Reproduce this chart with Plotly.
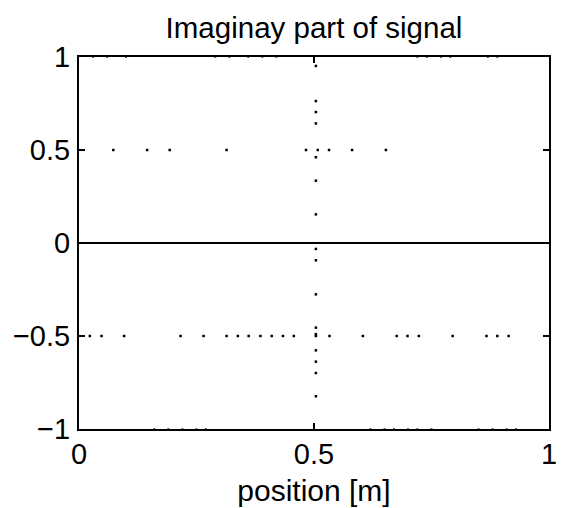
import plotly.graph_objects as go

# ---- data ----
line_x = [0.0, 1.0]
line_y = [0.0, 0.0]

row_pos_x = [0.073, 0.145, 0.193, 0.314, 0.483, 0.508, 0.532, 0.581, 0.653]
row_pos_y = [0.5] * len(row_pos_x)

row_neg_x = [0.023, 0.048, 0.096, 0.216, 0.265, 0.314, 0.338, 0.361, 0.386,
             0.410, 0.434, 0.457, 0.504, 0.533, 0.604, 0.676, 0.699, 0.723,
             0.795, 0.867, 0.890, 0.914]
row_neg_y = [-0.5] * len(row_neg_x)

col_y = [0.952, 0.763, 0.704, 0.643, 0.461, 0.335, 0.154, -0.032, -0.093,
         -0.276, -0.455, -0.49, -0.577, -0.638, -0.699, -0.824]
col_x = [0.504] * len(col_y)

top_x = [0.03, 0.06, 0.10, 0.29, 0.32, 0.36, 0.39, 0.42, 0.72, 0.74, 0.77, 0.79, 0.87, 0.89]
top_y = [1.0] * len(top_x)
bot_x = [0.16, 0.19, 0.22, 0.25, 0.27, 0.62, 0.65, 0.67, 0.70, 0.72, 0.75, 0.85, 0.88, 0.91, 0.93]
bot_y = [-1.0] * len(bot_x)

x_ticks = [0, 0.5, 1]
x_tick_labels = ["0", "0.5", "1"]
y_ticks = [-1, -0.5, 0, 0.5, 1]
y_tick_labels = ["\u22121", "\u22120.5", "0", "0.5", "1"]

FONT = "Liberation Sans, Arial, Helvetica, sans-serif"

fig = go.Figure()
fig.add_trace(go.Scatter(x=line_x, y=line_y, mode="lines",
                         line=dict(color="black", width=2), hoverinfo="skip"))
dot = dict(color="black", size=2.5, symbol="square", line=dict(width=0))
for xs, ys in [(row_pos_x, row_pos_y), (row_neg_x, row_neg_y), (col_x, col_y)]:
    fig.add_trace(go.Scatter(x=xs, y=ys, mode="markers", marker=dot, cliponaxis=False))
edge_dot = dict(color="#555555", size=2, symbol="square", line=dict(width=0))
for xs, ys in [(top_x, top_y), (bot_x, bot_y)]:
    fig.add_trace(go.Scatter(x=xs, y=ys, mode="markers", marker=edge_dot, cliponaxis=True))

fig.update_layout(
    width=565, height=508,
    margin=dict(l=79, r=16, t=57, b=79, autoexpand=False),
    paper_bgcolor="white", plot_bgcolor="white",
    showlegend=False,
    font=dict(family=FONT, color="black", size=29),
    title=dict(text="Imaginay part of signal", x=314 / 565, xanchor="center",
               y=1 - 28 / 508, yref="container", yanchor="middle",
               font=dict(size=29.5), automargin=False),
)
axis_common = dict(showgrid=False, zeroline=False, showline=True, linecolor="black",
                   linewidth=2, mirror="ticks", ticks="inside", ticklen=6,
                   tickwidth=1.5, tickcolor="black", automargin=False)
fig.update_xaxes(range=[0, 1], tickvals=x_ticks, ticktext=x_tick_labels,
                 ticklabelstandoff=-2,
                 title=dict(text="position [m]", standoff=11, font=dict(size=30)),
                 **axis_common)
fig.update_yaxes(range=[-1, 1], tickvals=y_ticks, ticktext=y_tick_labels,
                 ticklabelstandoff=1,
                 **axis_common)

fig.write_html("out.html", config={"displayModeBar": False},
               post_script="document.body.style.margin='0';document.body.style.overflow='hidden';")
